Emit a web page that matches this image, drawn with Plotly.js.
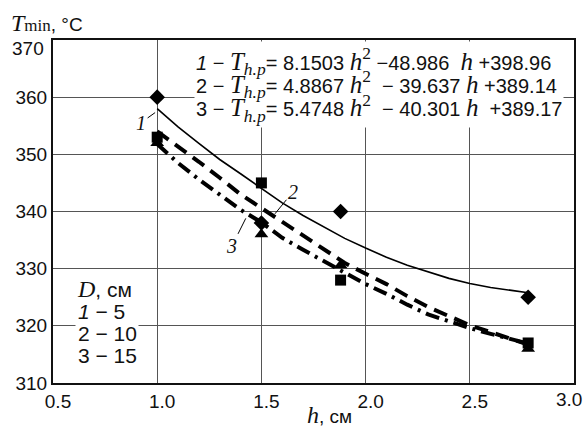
<!DOCTYPE html>
<html>
<head>
<meta charset="utf-8">
<script src="https://cdn.plot.ly/plotly-3.0.1.min.js"></script>
<style>html,body{margin:0;padding:0;background:#fff;}#chart{width:583px;height:427px;}</style>
</head>
<body>
<div id="chart"></div>
<script>
// measured points
const hPts = [1.0, 1.5, 1.88, 2.78];
const tD5 = [360, 338, 340, 325];      // D = 5 cm (diamonds)
const tD10 = [353, 345, 328, 317];     // D = 10 cm (squares)
const tD15 = [352, 336, 330.6, 316];   // D = 15 cm (triangles)

// fitted curves
const hCurve = [1.0, 1.1, 1.2, 1.3, 1.4, 1.5, 1.6, 1.7, 1.8, 1.9, 2.0, 2.1, 2.2, 2.3, 2.4, 2.5, 2.6, 2.7, 2.78];
const fit1 = [358.0, 354.8, 351.9, 349.1, 346.6, 344.0, 341.5, 339.3, 337.3, 335.3, 333.6, 332.0, 330.6, 329.4, 328.3, 327.4, 326.7, 326.2, 325.8];
const fit2 = [354.0, 351.4, 348.7, 345.9, 343.0, 340.6, 338.2, 335.8, 333.2, 331.0, 329.1, 327.3, 325.2, 323.3, 321.7, 320.1, 318.9, 317.6, 316.7];
const fit3 = [351.8, 348.5, 345.6, 342.9, 340.3, 338.1, 335.4, 333.3, 331.3, 329.3, 327.3, 325.6, 323.7, 322.0, 320.8, 319.6, 318.6, 317.6, 316.9];

const xTicks = [0.5, 1.0, 1.5, 2.0, 2.5, 3.0];
const xTickText = ['0.5', '1.0', '1.5', '2.0', '2.5', ''];
const xLastTick = '3.0';
const yTicks = [310, 320, 330, 340, 350, 360, 370];
const yTickText = ['310', '320', '330', '340', '350', '360', ''];
const yTopTick = '370';

const SERIF = 'Liberation Serif';
const SANS = 'Liberation Sans';
const sz = (s, px) => '<span style="font-size:' + px + 'px">' + s + '</span>';
const m = (s, px) => '<span style="font-family:' + SERIF + ';font-size:' + (px || 24) + 'px"><i>' + s + '</i></span>';
const Th = '<span style="font-family:' + SERIF + ';font-size:25px"><i>T</i><sub><i>h.p</i></sub></span>';
const h2 = '<span style="font-family:' + SERIF + ';font-size:25px"><i>h</i><sup>2</sup></span>';

const eqLines = [
  sz('<i>1</i> − ' + Th + '= 8.1503 ' + h2 + ' −48.986  ' + m('h', 25) + ' +398.96', 20),
  sz('2 − ' + Th + '= 4.8867 ' + h2 + '  − 39.637 ' + m('h', 25) + ' +389.14', 20),
  sz('3 − ' + Th + '= 5.4748 ' + h2 + '  − 40.301 ' + m('h', 25) + '  +389.17', 20)
];
const legendLines = [
  sz(m('D', 24) + ', см', 21),
  sz('<i>1</i> − 5', 21),
  sz('2 − 10', 21),
  sz('3 − 15', 21)
];

const traces = [
  {x: hCurve, y: fit1, mode: 'lines', line: {color: '#000', width: 1.6}, hoverinfo: 'skip'},
  {x: hCurve, y: fit2, mode: 'lines', line: {color: '#000', width: 4, dash: '14px,8px'}, hoverinfo: 'skip'},
  {x: hCurve, y: fit3, mode: 'lines', line: {color: '#000', width: 4, dash: '14px,6px,3px,6px'}, hoverinfo: 'skip'},
  {x: hPts, y: tD5, mode: 'markers', marker: {symbol: 'diamond', size: 12, color: '#000'}},
  {x: hPts, y: tD10, mode: 'markers', marker: {symbol: 'square', size: 11, color: '#000'}},
  {x: hPts, y: tD15, mode: 'markers', marker: {symbol: 'triangle-up', size: 12, color: '#000'}}
];

const layout = {
  width: 583, height: 427,
  margin: {l: 53, r: 9, t: 40, b: 44},
  paper_bgcolor: '#fff', plot_bgcolor: '#fff',
  showlegend: false,
  font: {family: SANS, size: 18, color: '#111'},
  xaxis: {
    range: [0.5, 3.0], tickvals: xTicks, ticktext: xTickText, ticklabelshift: 5,
    showgrid: true, gridcolor: '#555', gridwidth: 1,
    showline: true, mirror: true, linecolor: '#111', linewidth: 2,
    ticks: '', zeroline: false, tickfont: {family: SANS, size: 19, color: '#111'}
  },
  yaxis: {
    range: [310, 370], tickvals: yTicks, ticktext: yTickText,
    showgrid: true, gridcolor: '#555', gridwidth: 1,
    showline: true, mirror: true, linecolor: '#111', linewidth: 2,
    ticks: '', zeroline: false, tickfont: {family: SANS, size: 19, color: '#111'}
  },
  annotations: [
    {xref: 'paper', yref: 'paper', x: 0.27, y: 0.997, xanchor: 'left', yanchor: 'top',
     text: eqLines.join('<br>'), showarrow: false, align: 'left', bgcolor: '#fff', borderpad: 1,
     font: {family: SANS, size: 18, color: '#111'}},
    {xref: 'paper', yref: 'paper', x: 0.043, y: 0.318, xanchor: 'left', yanchor: 'top',
     text: legendLines.join('<br>'), showarrow: false, align: 'left', bgcolor: '#fff', borderpad: 1,
     font: {family: SANS, size: 17, color: '#111'}},
    {xref: 'paper', yref: 'paper', x: -0.085, y: 1.0, xanchor: 'left', yanchor: 'bottom', yshift: 2,
     text: m('T', 24) + '<span style="font-family:' + SERIF + ';font-size:17px">min</span>, °C',
     showarrow: false, font: {family: SANS, size: 19, color: '#111'}},
    {xref: 'paper', yref: 'paper', x: 0.53, y: 0, xanchor: 'center', yanchor: 'top', yshift: -17,
     text: m('h', 24) + ', см', showarrow: false, font: {family: SANS, size: 19, color: '#111'}},
    {xref: 'x', yref: 'paper', x: 3.0, y: 0, xanchor: 'right', yanchor: 'middle', xshift: 9, yshift: -16,
     text: xLastTick, showarrow: false, borderpad: 0, font: {family: SANS, size: 19, color: '#111'}},
    {xref: 'paper', yref: 'y', x: 0, y: 370, xanchor: 'right', yanchor: 'middle', xshift: -8, yshift: -8,
     text: yTopTick, showarrow: false, borderpad: 0, font: {family: SANS, size: 19, color: '#111'}},
    {x: 0.99, y: 357.3, ax: -14, ay: 10, text: m('1', 20), showarrow: true, arrowhead: 0, arrowwidth: 1, arrowcolor: '#000', standoff: 0},
    {x: 1.565, y: 339.6, ax: 18, ay: -22, text: m('2', 20), showarrow: true, arrowhead: 0, arrowwidth: 1, arrowcolor: '#000'},
    {x: 1.425, y: 338.8, ax: -14, ay: 28, text: m('3', 20), showarrow: true, arrowhead: 0, arrowwidth: 1, arrowcolor: '#000'}
  ]
};

Plotly.newPlot('chart', traces, layout, {staticPlot: true, displayModeBar: false});
</script>
</body>
</html>
